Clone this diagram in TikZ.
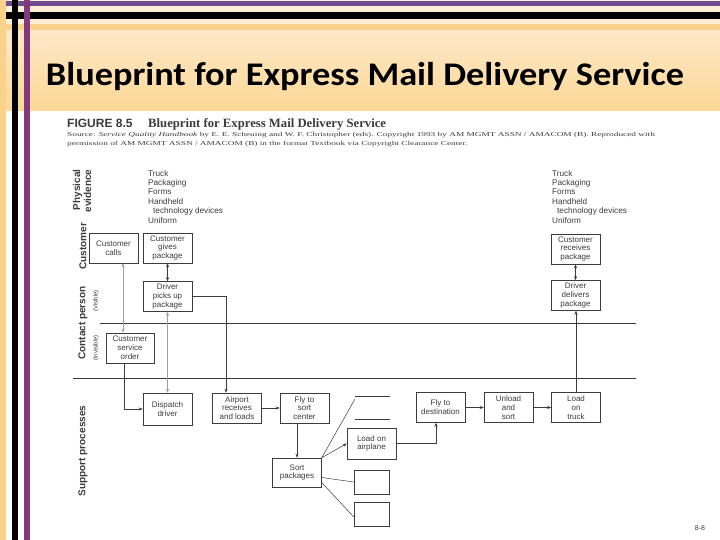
\documentclass[tikz,border=0pt]{standalone}
\usepackage{fontspec}
\setmainfont{Liberation Sans}
\newfontfamily\titlefont[FakeStretch=1.1]{Carlito}
\newfontfamily\capfont{Liberation Serif}
\newfontfamily\srcfont[FakeStretch=1.55]{Liberation Serif}
\usetikzlibrary{arrows.meta}

\definecolor{slidepurple}{HTML}{6E4A8E}
\definecolor{barpurple}{HTML}{823A7C}
\definecolor{slideorange}{HTML}{F9D38B}
\definecolor{slidecream}{HTML}{FDEFD6}
\definecolor{bandtop}{HTML}{FFE8C8}
\definecolor{bandbot}{HTML}{FDD896}
\definecolor{ink}{HTML}{3C3C3C}

\begin{document}
\begin{tikzpicture}[x=1pt,y=-1pt,>={Stealth[length=4pt,width=3pt]},
  bpbox/.style={draw=ink,line width=.5pt,fill=white,minimum width=49pt,
    minimum height=30pt,inner sep=1pt,align=center,text=ink,
    font=\fontsize{8}{8.8}\selectfont},
  blank/.style={draw=ink,line width=.5pt,minimum width=35pt,minimum height=24pt},
  lane/.style={rotate=90,text=ink,font=\bfseries\fontsize{10}{11}\selectfont},
  sublane/.style={rotate=90,text=ink,font=\fontsize{6}{7}\selectfont},
  evid/.style={anchor=north west,inner sep=0pt,align=left,text=ink,
    font=\fontsize{8.2}{9.4}\selectfont},
  flow/.style={draw=ink,line width=.5pt},
  faint/.style={draw=gray!75,line width=.4pt}]
  \useasboundingbox (0,0) rectangle (720,540);
  \fill[white] (0,0) rectangle (720,540);
  \fill[slidecream] (0,0) rectangle (720,24);
  \fill[slidepurple] (4,1) rectangle (720,6);
  \fill[black] (4,12) rectangle (720,19);
  \fill[slideorange] (4,24) rectangle (720,31);
  \shade[top color=bandtop,bottom color=bandbot] (6,31) rectangle (720,111);
  \fill[slideorange] (0,0) rectangle (6,540);
  \fill[black] (12,0) rectangle (18,540);
  \fill[barpurple] (24,0) rectangle (30,540);

  \node[font=\titlefont\bfseries\fontsize{33}{38}\selectfont] (title) at (365,77)
    {Blueprint for Express Mail Delivery Service};
  \node[anchor=base west,inner sep=0pt,text=ink,font=\bfseries\fontsize{12}{13}\selectfont]
    (fignum) at (67,128) {FIGURE 8.5};
  \node[anchor=base west,inner sep=0pt,text=ink,font=\capfont\bfseries\fontsize{12.7}{13}\selectfont]
    (figtitle) at (148,128) {Blueprint for Express Mail Delivery Service};
  \node[anchor=base west,inner sep=0pt,align=left,text=ink,font=\srcfont\fontsize{6}{9}\selectfont]
    (source) at (67,146) {Source: \textit{Service Quality Handbook} by E. E. Scheuing and
    W. F. Christopher (eds). Copyright 1993 by AM MGMT ASSN / AMACOM (B). Reproduced with\\
    permission of AM MGMT ASSN / AMACOM (B) in the format Textbook via Copyright Clearance Center.};

  \node[lane,align=right] (physical) at (82,191) {Physical\\evidence};
  \node[lane] (customer) at (83,246) {Customer};
  \node[lane] (contact) at (83,323) {Contact person};
  \node[sublane] (visible) at (96,301) {(Visible)};
  \node[sublane] (invisible) at (96,348) {(Invisible)};
  \node[lane] (support) at (83,451) {Support processes};

  \coordinate (visA) at (100,323);
  \coordinate (visB) at (636,323);
  \coordinate (intA) at (73,378);
  \coordinate (intB) at (636,378);
  \draw[flow] (visA) -- (visB);
  \draw[flow] (intA) -- (intB);

  \node[evid] (evleft) at (148,170) {Truck\\Packaging\\Forms\\Handheld\\
    \hspace{5pt}technology devices\\Uniform};
  \node[evid] (evright) at (552,170) {Truck\\Packaging\\Forms\\Handheld\\
    \hspace{5pt}technology devices\\Uniform};

  \node[bpbox] (calls) at (113.5,248) {Customer\\calls};
  \node[bpbox] (gives) at (167.5,248) {Customer\\gives\\package};
  \node[bpbox] (picks) at (167.5,296.5) {Driver\\picks up\\package};
  \node[bpbox] (receives) at (575.5,249) {Customer\\receives\\package};
  \node[bpbox] (delivers) at (575.5,295.5) {Driver\\delivers\\package};
  \node[bpbox,minimum width=48pt] (order) at (130,348) {Customer\\service\\order};
  \node[bpbox,minimum height=32pt] (dispatch) at (167.5,409) {Dispatch\\driver};
  \node[bpbox] (airport) at (237,408) {Airport\\receives\\and loads};
  \node[bpbox] (flysort) at (304.5,408) {Fly to\\sort\\center};
  \node[bpbox,minimum height=31pt] (airplane) at (371.5,443.5) {Load on\\airplane};
  \node[bpbox] (flydest) at (440.5,407.5) {Fly to\\destination};
  \node[bpbox] (unload) at (508.5,407.5) {Unload\\and\\sort};
  \node[bpbox] (truck) at (576,407.5) {Load\\on\\truck};
  \node[bpbox,minimum height=29pt] (sortpk) at (297,472.5) {Sort\\packages};
  \node[blank] (blankA) at (371.5,482) {};
  \node[blank] (blankB) at (371.5,514) {};

  \coordinate (slotA) at (355,396);
  \coordinate (slotAe) at (390,396);
  \coordinate (slotB) at (355,419);
  \coordinate (slotBe) at (390,419);
  \draw[flow] (slotA) -- (slotAe);
  \draw[flow] (slotB) -- (slotBe);

  \draw[faint,<->] ([xshift=9.5pt]calls.south) -- ([xshift=9.5pt]calls.south |- order.north);
  \draw[flow,<->] (gives) -- (picks);
  \draw[faint,<->] (picks) -- (dispatch);
  \draw[flow,->] (picks.east) -| ([xshift=-11pt]airport.north);
  \draw[flow,->] ([xshift=-6pt]order.south) |- (dispatch.west);
  \draw[flow,->] (airport) -- (flysort);
  \draw[flow,->] (flysort.south -| sortpk) -- (sortpk.north);
  \draw[flow] (sortpk.north east) -- ([yshift=-3pt]slotA);
  \draw[flow,->] (sortpk.north east) -- (airplane.west);
  \draw[flow] ([yshift=-5pt]sortpk.east) -- (blankA.west);
  \draw[flow] ([yshift=-10pt]sortpk.east) -- ([yshift=-3pt]blankB.west);
  \draw[flow,->] (airplane.east) -| ([xshift=-4.5pt]flydest.south);
  \draw[flow,->] (flydest) -- (unload);
  \draw[flow,->] (unload) -- (truck);
  \draw[flow,->] (truck.north) -- (truck.north |- delivers.south);
  \draw[flow,<->] (delivers) -- (receives);

  \node[text=ink,font=\fontsize{7}{8}\selectfont] (pagenum) at (700,528) {8-8};
\end{tikzpicture}
\end{document}
